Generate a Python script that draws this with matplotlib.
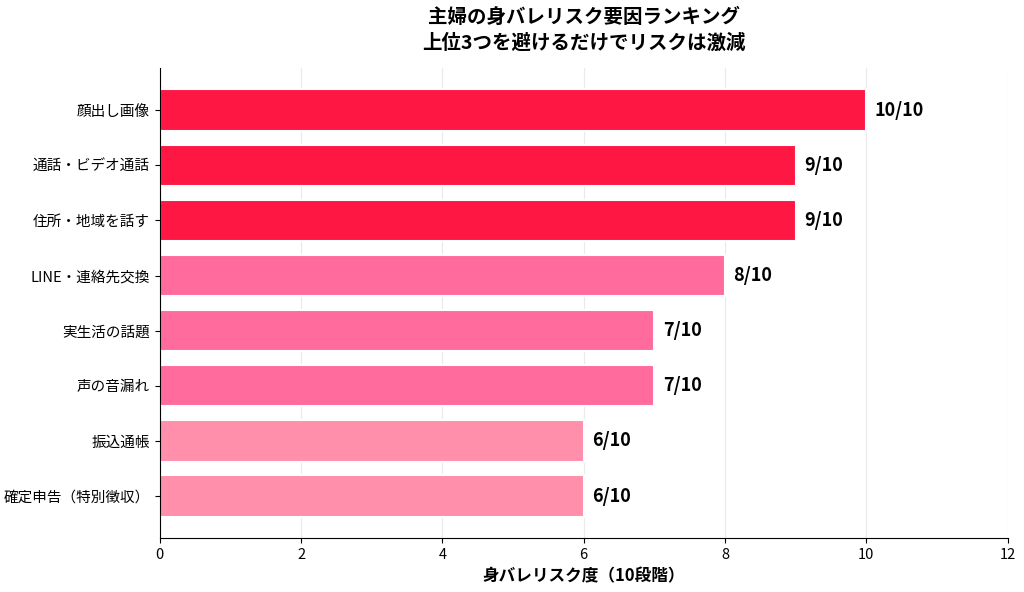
import matplotlib
matplotlib.use("Agg")
import matplotlib.pyplot as plt

plt.rcParams['font.family'] = ['Noto Sans CJK JP', 'DejaVu Sans']

# data (top to bottom as shown)
factors = ["顔出し画像", "通話・ビデオ通話", "住所・地域を話す", "LINE・連絡先交換",
           "実生活の話題", "声の音漏れ", "振込通帳", "確定申告（特別徴収）"]
scores = [10, 9, 9, 8, 7, 7, 6, 6]
bar_colors = ["#FF1744", "#FF1744", "#FF1744", "#FF6B9D",
              "#FF6B9D", "#FF6B9D", "#FF8FAB", "#FF8FAB"]

fig, ax = plt.subplots(figsize=(10.24, 5.92), dpi=100)
fig.subplots_adjust(left=0.156, right=0.984, top=0.885, bottom=0.091)

ypos = list(range(len(factors)))[::-1]
ax.barh(ypos, scores, height=0.75, color=bar_colors, edgecolor="white",
        linewidth=1.5, zorder=2)

for y, s in zip(ypos, scores):
    ax.text(s + 0.12, y, f"{s}/10", va="center", ha="left",
            fontsize=13, fontweight="bold", color="black")

ax.set_yticks(ypos)
ax.set_yticklabels(factors, fontsize=10.5)
ax.set_xlim(0, 12)
ax.set_xticks(range(0, 13, 2))
ax.tick_params(axis="x", labelsize=10.5)
ax.set_xlabel("身バレリスク度（10段階）", fontsize=12, fontweight="bold")
ax.set_title("主婦の身バレリスク要因ランキング\n上位3つを避けるだけでリスクは激減",
             fontsize=14, fontweight="bold", pad=14, linespacing=1.4)

# grid sits over the bars, faintly
ax.grid(axis="x", color="#bbbbbb", linewidth=0.8, alpha=0.3, zorder=3)
ax.spines["top"].set_visible(False)
ax.spines["right"].set_visible(False)

fig.savefig("out.png", dpi=100)
